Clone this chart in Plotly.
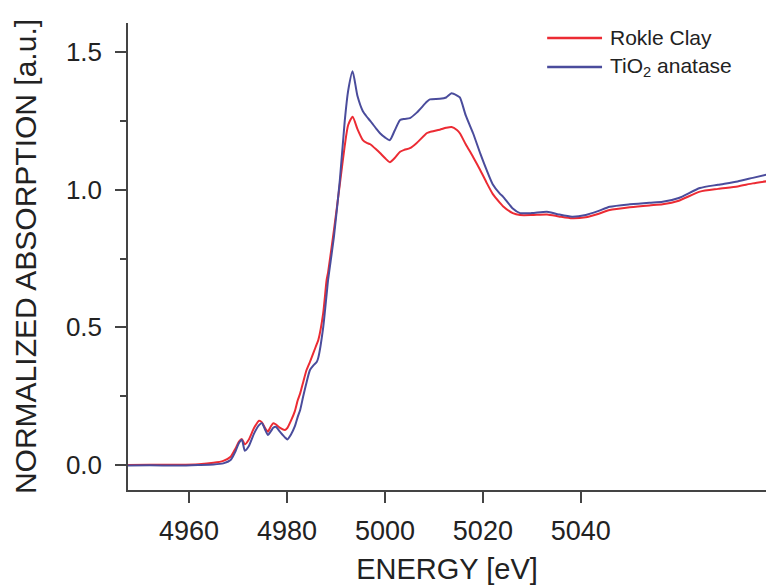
import plotly.graph_objects as go

# ---- data ----
energy_ev = [
    4946.0, 4952.0, 4958.0, 4962.0, 4965.0, 4967.0, 4968.5, 4969.5, 4970.2, 4970.8,
    4971.4, 4972.2, 4973.3, 4974.3, 4974.9, 4975.5, 4976.1, 4976.7, 4977.2, 4977.7,
    4978.6, 4979.6, 4980.1, 4980.8, 4981.6, 4982.2, 4982.7, 4983.3, 4984.0, 4984.7,
    4985.4, 4986.1, 4986.4, 4987.4, 4988.1, 4988.4, 4989.6, 4990.8, 4991.8, 4992.5,
    4993.4, 4994.4, 4995.5, 4996.3, 4997.0, 4998.3, 4999.0, 5000.0, 5001.0, 5002.0,
    5003.1, 5004.0, 5005.1, 5006.5, 5008.6, 5009.2, 5011.2, 5012.5, 5013.6, 5014.7,
    5015.3, 5016.5, 5018.0, 5019.5, 5020.8, 5022.0, 5023.5, 5024.1, 5026.1, 5027.6,
    5030.0, 5033.1, 5035.5, 5038.2, 5041.0, 5043.5, 5045.9, 5050.0, 5054.0, 5056.7,
    5060.0, 5064.3, 5068.0, 5072.0, 5075.1, 5078.5,
]

rokle_clay = [
    0.000, 0.001, 0.001, 0.003, 0.008, 0.015, 0.030, 0.060, 0.085, 0.094,
    0.075, 0.092, 0.135, 0.161, 0.155, 0.135, 0.121, 0.140, 0.152, 0.148,
    0.135, 0.127, 0.135, 0.160, 0.195, 0.235, 0.260, 0.300, 0.345, 0.375,
    0.407, 0.440, 0.454, 0.552, 0.672, 0.700, 0.854, 1.020, 1.160, 1.235,
    1.265, 1.220, 1.180, 1.170, 1.165, 1.145, 1.133, 1.115, 1.100, 1.115,
    1.138, 1.145, 1.151, 1.170, 1.206, 1.210, 1.218, 1.225, 1.228, 1.217,
    1.205, 1.165, 1.119, 1.070, 1.024, 0.985, 0.952, 0.940, 0.915, 0.908,
    0.908, 0.910, 0.903, 0.896, 0.900, 0.912, 0.926, 0.936, 0.943, 0.947,
    0.960, 0.993, 1.003, 1.012, 1.023, 1.032,
]

tio2_anatase = [
    -0.002, -0.001, -0.002, 0.000, 0.002, 0.006, 0.018, 0.050, 0.080, 0.092,
    0.052, 0.068, 0.115, 0.145, 0.152, 0.130, 0.109, 0.122, 0.135, 0.139,
    0.120, 0.100, 0.093, 0.110, 0.140, 0.175, 0.200, 0.248, 0.300, 0.345,
    0.362, 0.375, 0.390, 0.500, 0.620, 0.672, 0.830, 1.035, 1.250, 1.360,
    1.430, 1.340, 1.285, 1.265, 1.250, 1.220, 1.205, 1.190, 1.180, 1.215,
    1.253, 1.257, 1.260, 1.280, 1.320, 1.328, 1.330, 1.335, 1.350, 1.342,
    1.335, 1.270, 1.205, 1.130, 1.070, 1.020, 0.985, 0.975, 0.932, 0.915,
    0.915, 0.920, 0.910, 0.902, 0.908, 0.922, 0.938, 0.947, 0.953, 0.956,
    0.970, 1.006, 1.018, 1.030, 1.043, 1.057,
]

x_tick_vals = [4960, 4980, 5000, 5020, 5040]
y_tick_vals = [0.0, 0.5, 1.0, 1.5]
y_tick_text = ["0.0", "0.5", "1.0", "1.5"]

series_names = ["Rokle Clay", "TiO<sub>2</sub> anatase"]
series_colors = ["#ec2b33", "#4a4c9c"]

FONT = "Liberation Sans, Arial, sans-serif"
TXT = "#222222"
AX = "#444444"

fig = go.Figure()
for vals, name, col in zip([rokle_clay, tio2_anatase], series_names, series_colors):
    fig.add_trace(go.Scatter(
        x=energy_ev, y=vals, mode="lines", name=name,
        line=dict(color=col, width=2, shape="spline", smoothing=0.6),
        showlegend=False,
    ))

# manual legend (long line samples like the reference)
leg_y = [0.968, 0.906]
for yy, name, col in zip(leg_y, series_names, series_colors):
    fig.add_shape(type="line", xref="paper", yref="paper",
                  x0=0.657, x1=0.743, y0=yy, y1=yy,
                  line=dict(color=col, width=2.5))
    fig.add_annotation(xref="paper", yref="paper", x=0.752, y=yy,
                       xanchor="left", yanchor="middle", showarrow=False,
                       text=name, font=dict(family=FONT, size=21, color=TXT))

fig.update_layout(
    width=766, height=586,
    margin=dict(l=128, r=0, t=23, b=96),
    paper_bgcolor="white", plot_bgcolor="white",
    font=dict(family=FONT, color=TXT),
    xaxis=dict(
        range=[4947.55, 5077.8],
        tickvals=x_tick_vals,
        ticks="outside", ticklen=11, tickwidth=1.5, tickcolor=AX,
        showline=True, linecolor=AX, linewidth=1.5,
        showgrid=False, zeroline=False,
        tickfont=dict(family=FONT, size=27, color=TXT),
        ticklabelstandoff=5,
        title=dict(text="ENERGY [eV]", font=dict(family=FONT, size=29, color=TXT), standoff=14),
    ),
    yaxis=dict(
        range=[-0.0908, 1.6055],
        tickvals=y_tick_vals, ticktext=y_tick_text,
        ticks="outside", ticklen=11, tickwidth=1.5, tickcolor=AX,
        minor=dict(dtick=0.25, tick0=0, ticks="outside", ticklen=6, tickwidth=1.5, tickcolor=AX, showgrid=False),
        showline=True, linecolor=AX, linewidth=1.5,
        showgrid=False, zeroline=False,
        tickfont=dict(family=FONT, size=26, color=TXT),
        ticklabelstandoff=8,
        title=dict(text="NORMALIZED ABSORPTION [a.u.]", font=dict(family=FONT, size=30, color=TXT), standoff=20),
    ),
)

fig.write_html("out.html")
